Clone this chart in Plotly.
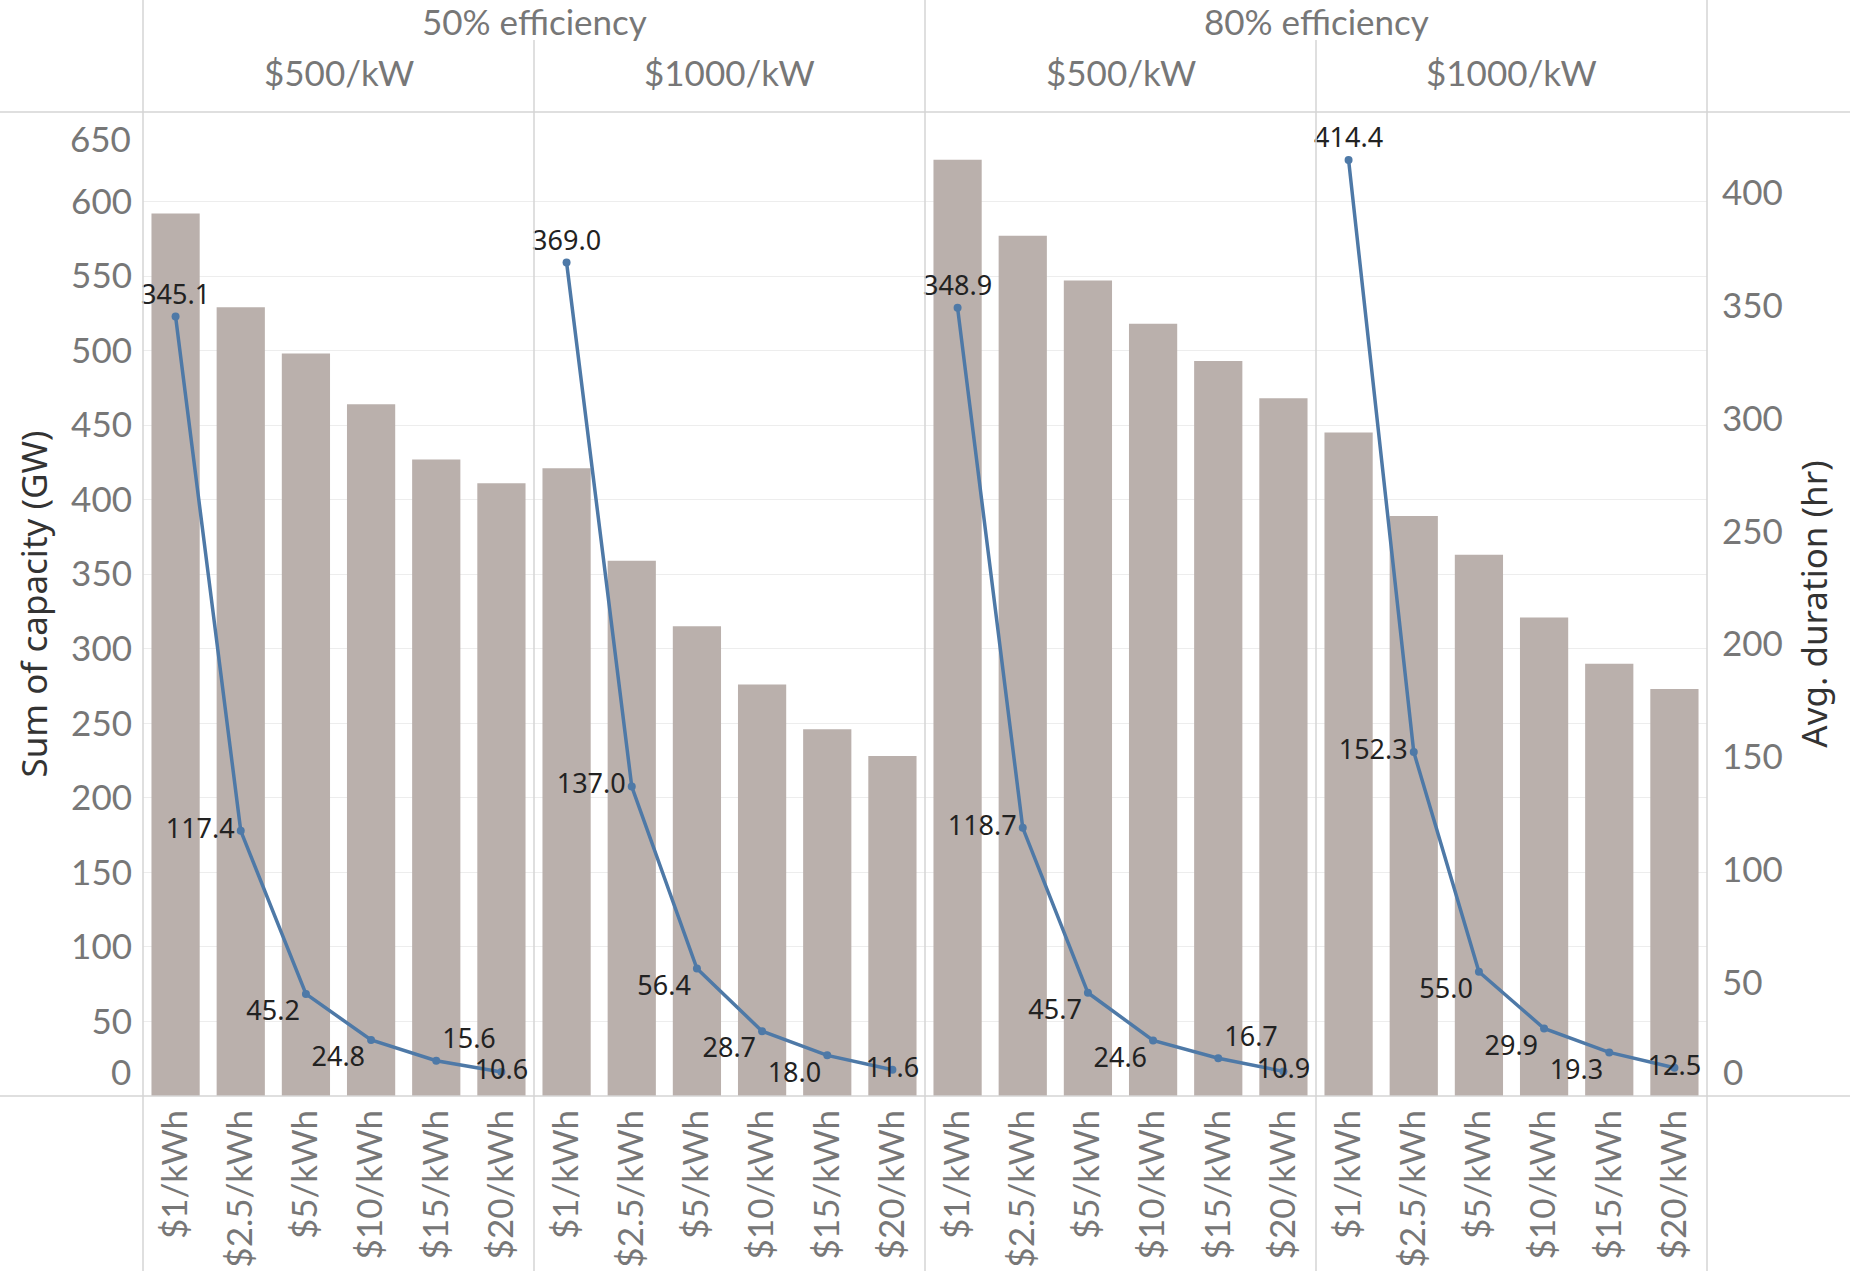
import plotly.graph_objects as go

# ---------------- data ----------------
categories = ["$1/kWh", "$2.5/kWh", "$5/kWh", "$10/kWh", "$15/kWh", "$20/kWh"]
efficiency_groups = ["50% efficiency", "80% efficiency"]
power_costs = ["$500/kW", "$1000/kW"]

capacity_50_500 = [592, 529, 498, 464, 427, 411]
capacity_50_1000 = [421, 359, 315, 276, 246, 228]
capacity_80_500 = [628, 577, 547, 518, 493, 468]
capacity_80_1000 = [445, 389, 363, 321, 290, 273]

duration_50_500 = [345.1, 117.4, 45.2, 24.8, 15.6, 10.6]
duration_50_1000 = [369.0, 137.0, 56.4, 28.7, 18.0, 11.6]
duration_80_500 = [348.9, 118.7, 45.7, 24.6, 16.7, 10.9]
duration_80_1000 = [414.4, 152.3, 55.0, 29.9, 19.3, 12.5]

capacity_ticks = [50, 100, 150, 200, 250, 300, 350, 400, 450, 500, 550, 600, 650]
duration_ticks = [50, 100, 150, 200, 250, 300, 350, 400]

# ---------------- styles ----------------
BAR_COLOR = "#BAB0AC"
LINE_COLOR = "#4E79A7"
GRID = "#EDEDED"
RULE = "#D4D4D4"
TICK_FONT = dict(family="Lato", size=35, color="#777777")
HEAD_FONT = dict(family="Lato", size=35, color="#777777")
LABEL_FONT = dict(family="Noto Sans", size=27, color="#222222")
TITLE_FONT = dict(family="Noto Sans", size=35, color="#333333")

panels = [
    (capacity_50_500, duration_50_500,
     ["top center", "middle left", "bottom left", "bottom left", "top right", "middle center"]),
    (capacity_50_1000, duration_50_1000,
     ["top center", "middle left", "bottom left", "bottom left", "bottom left", "middle center"]),
    (capacity_80_500, duration_80_500,
     ["top center", "middle left", "bottom left", "bottom left", "top right", "middle center"]),
    (capacity_80_1000, duration_80_1000,
     ["top center", "middle left", "bottom left", "bottom left", "bottom left", "middle center"]),
]

W, H = 1850, 1271
ML, MR, MT, MB = 143, 143, 112, 175
PW = W - ML - MR
PH = H - MT - MB

fig = go.Figure()
for i, (cap, dur, pos) in enumerate(panels):
    xa = "x" if i == 0 else f"x{i+1}"
    fig.add_trace(go.Bar(x=categories, y=cap, xaxis=xa, yaxis="y",
                         marker=dict(color=BAR_COLOR, line=dict(width=0)),
                         hoverinfo="skip"))
    fig.add_trace(go.Scatter(x=categories, y=dur, xaxis=xa, yaxis="y2",
                             mode="lines+markers+text",
                             line=dict(color=LINE_COLOR, width=3.5),
                             marker=dict(color=LINE_COLOR, size=8),
                             text=[f"{v:.1f}" for v in dur],
                             textposition=pos, textfont=LABEL_FONT,
                             cliponaxis=False, hoverinfo="skip"))

layout = dict(
    width=W, height=H,
    margin=dict(l=ML, r=MR, t=MT, b=MB, pad=0),
    paper_bgcolor="white", plot_bgcolor="white",
    showlegend=False, bargap=0.26,
    yaxis=dict(range=[0, 660], tickvals=capacity_ticks[:-1], tickfont=TICK_FONT,
               showgrid=True, gridcolor=GRID, gridwidth=1, zeroline=False,
               showline=False, ticks="", ticklabelstandoff=10, automargin=False,
               title=dict(text="Sum of capacity (GW)", font=TITLE_FONT, standoff=12)),
    yaxis2=dict(range=[0, 435.6], overlaying="y", side="right", anchor="free",
                position=1, tickvals=duration_ticks, tickfont=TICK_FONT,
                showgrid=False, zeroline=False, showline=False, ticks="",
                ticklabelstandoff=14, automargin=False,
                title=dict(text="Avg. duration (hr)", font=TITLE_FONT, standoff=20)),
)
for i in range(4):
    key = "xaxis" if i == 0 else f"xaxis{i+1}"
    layout[key] = dict(domain=[i * 0.25, (i + 1) * 0.25], anchor="y",
                       tickangle=-90, tickfont=TICK_FONT, showgrid=False,
                       showline=False, zeroline=False, ticks="", automargin=False,
                       range=[-0.5, 5.5], ticklabelstandoff=6)
fig.update_layout(**layout)

# frame / header rules (paper coordinates)
left_edge = -ML / PW
right_edge = 1 + MR / PW
bottom_edge = -MB / PH
top_edge = 1 + MT / PH
mid_top = 1 + (MT - 40) / PH
shapes = []
for y in [0, 1]:
    shapes.append(dict(type="line", xref="paper", yref="paper", x0=left_edge, x1=right_edge,
                       y0=y, y1=y, line=dict(color=RULE, width=1.5)))
for x, top in [(0, top_edge), (0.25, mid_top), (0.5, top_edge), (0.75, mid_top), (1, top_edge)]:
    shapes.append(dict(type="line", xref="paper", yref="paper", x0=x, x1=x,
                       y0=bottom_edge, y1=top, line=dict(color=RULE, width=1.5)))
fig.update_layout(shapes=shapes)

# headers
ann = []
for g, name in enumerate(efficiency_groups):
    ann.append(dict(text=name, xref="paper", yref="paper", x=0.25 + 0.5 * g,
                    y=1 + (MT - 21) / PH, showarrow=False, font=HEAD_FONT,
                    xanchor="center", yanchor="middle"))
for p in range(4):
    ann.append(dict(text=power_costs[p % 2], xref="paper", yref="paper",
                    x=0.125 + 0.25 * p, y=1 + (MT - 72) / PH, showarrow=False,
                    font=HEAD_FONT, xanchor="center", yanchor="middle"))
# edge tick labels nudged inside the plot, as in the source
ann.append(dict(text="0", xref="paper", yref="y", x=0, y=0, xanchor="right",
                yanchor="middle", xshift=-10, yshift=25, showarrow=False, font=TICK_FONT))
ann.append(dict(text=str(capacity_ticks[-1]), xref="paper", yref="y", x=0,
                y=capacity_ticks[-1], xanchor="right", yanchor="middle", xshift=-10,
                yshift=-11, showarrow=False, font=TICK_FONT))
ann.append(dict(text="0", xref="paper", yref="y2", x=1, y=0, xanchor="left",
                yanchor="middle", xshift=14, yshift=25, showarrow=False, font=TICK_FONT))
fig.update_layout(annotations=ann)

fig.write_html("out.html", config={"displayModeBar": False},
               post_script="document.body.style.margin='0px';")
